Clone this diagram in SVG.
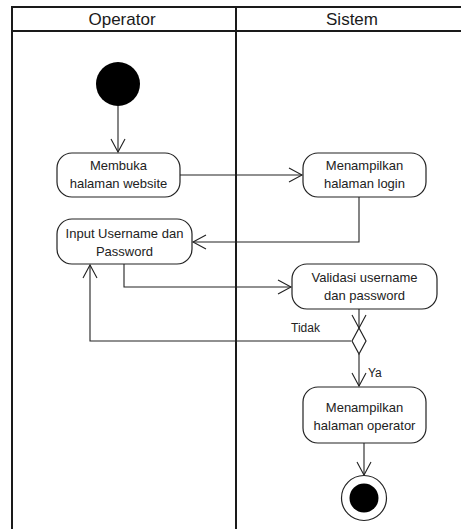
<svg xmlns="http://www.w3.org/2000/svg" width="461" height="529" viewBox="0 0 461 529">
  <defs>
    <style>
      .lane { fill: none; stroke: #1a1a1a; stroke-width: 2; }
      .head { font-family: "Liberation Sans", Arial, sans-serif; font-size: 17px; fill: #1a1a1a; text-anchor: middle; }
      .act { fill: #ffffff; stroke: #222; stroke-width: 1.2; }
      .txt { font-family: "Liberation Sans", Arial, sans-serif; font-size: 13px; fill: #222; text-anchor: middle; }
      .lbl { font-family: "Liberation Sans", Arial, sans-serif; font-size: 12px; fill: #222; }
      .flow { fill: none; stroke: #222; stroke-width: 1.1; }
    </style>
    <marker id="open" markerUnits="userSpaceOnUse" viewBox="-14 -8 16 16" refX="0" refY="0" markerWidth="16" markerHeight="16" orient="auto">
      <path d="M-13,-7 L0,0 L-13,7" fill="none" stroke="#222" stroke-width="1.1"/>
    </marker>
  </defs>

  <rect width="461" height="529" fill="#ffffff"/>

  <!-- swimlanes -->
  <g id="lanes">
    <path class="lane" d="M12,529 V7 H461 M12,31 H461 M236,7 V529"/>
    <text class="head" x="122" y="25">Operator</text>
    <text class="head" x="352" y="25">Sistem</text>
  </g>

  <!-- connectors -->
  <g id="connectors">
    <path class="flow" d="M118,106 V152" marker-end="url(#open)"/>
    <path class="flow" d="M180,175 H302" marker-end="url(#open)"/>
    <path class="flow" d="M359,197 V242 H193" marker-end="url(#open)"/>
    <path class="flow" d="M124,264 V287 H291" marker-end="url(#open)"/>
    <path class="flow" d="M359,309 V328" marker-end="url(#open)"/>
    <path class="flow" d="M351,341 H90 V265" marker-end="url(#open)"/>
    <path class="flow" d="M359,354 V386" marker-end="url(#open)"/>
    <path class="flow" d="M364,443 V475" marker-end="url(#open)"/>
    <text class="lbl" x="291" y="332">Tidak</text>
    <text class="lbl" x="368" y="377">Ya</text>
  </g>

  <!-- activity nodes -->
  <g id="start">
    <circle cx="118" cy="84" r="22" fill="#000"/>
  </g>

  <g id="membuka-website">
    <rect class="act" x="57" y="153" width="123" height="44" rx="15"/>
    <text class="txt" x="118.5" y="170">Membuka</text>
    <text class="txt" x="118.5" y="188">halaman website</text>
  </g>

  <g id="tampil-login">
    <rect class="act" x="303" y="153" width="123" height="44" rx="15"/>
    <text class="txt" x="364.5" y="170">Menampilkan</text>
    <text class="txt" x="364.5" y="188">halaman login</text>
  </g>

  <g id="input-login">
    <rect class="act" x="57" y="219" width="135" height="45" rx="15"/>
    <text class="txt" x="124.5" y="238">Input Username dan</text>
    <text class="txt" x="124.5" y="256">Password</text>
  </g>

  <g id="validasi">
    <rect class="act" x="292" y="264" width="145" height="45" rx="15"/>
    <text class="txt" x="364.5" y="282">Validasi username</text>
    <text class="txt" x="364.5" y="300">dan password</text>
  </g>

  <g id="keputusan">
    <path class="act" d="M359,328 L366,341 L359,354 L352,341 Z"/>
  </g>

  <g id="tampil-operator">
    <rect class="act" x="303" y="387" width="123" height="56" rx="15"/>
    <text class="txt" x="364.5" y="412">Menampilkan</text>
    <text class="txt" x="364.5" y="430">halaman operator</text>
  </g>

  <g id="end">
    <circle cx="364" cy="498" r="22.5" fill="#fff" stroke="#222" stroke-width="1.2"/>
    <circle cx="364" cy="498" r="14.5" fill="#000"/>
  </g>
</svg>
